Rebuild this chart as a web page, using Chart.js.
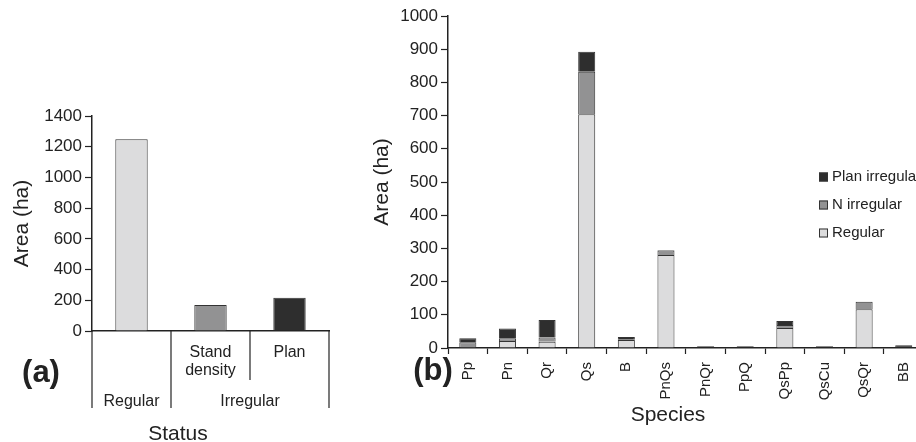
<!DOCTYPE html>
<html>
<head>
<meta charset="utf-8">
<script src="https://cdn.jsdelivr.net/npm/chart.js@4"></script>
<style>
  html, body { margin: 0; padding: 0; background: #fff; overflow: hidden; }
  #wrap { position: relative; width: 916px; height: 442px; overflow: hidden; }
  #chart-status { position: absolute; left: 0; top: 0; }
  #chart-species { position: absolute; left: 360px; top: 0; }
</style>
</head>
<body>
<div id="wrap">
  <canvas id="chart-status" width="360" height="442" style="width:360px;height:442px"></canvas>
  <canvas id="chart-species" width="570" height="442" style="width:570px;height:442px"></canvas>
</div>
<script>
'use strict';

// ===== DATA =====
// (a) area by status
const statusLabels = ['Regular', 'Stand density', 'Plan'];
const statusArea = [1248, 169, 217];
const statusRow1 = [[], ['Stand', 'density'], ['Plan']];
const statusGroups = [
  { label: 'Regular', from: 0, to: 0 },
  { label: 'Irregular', from: 1, to: 2 }
];
const statusTicks = [0, 200, 400, 600, 800, 1000, 1200, 1400];

// (b) area by species, stacked
const species = ['Pp', 'Pn', 'Qr', 'Qs', 'B', 'PnQs', 'PnQr', 'PpQ', 'QsPp', 'QsCu', 'QsQr', 'BB'];
const regular = [3, 21, 19, 704, 24, 280, 0, 0, 60, 0, 117, 0];
const nIrregular = [14, 8, 13, 128, 1, 14, 0, 0, 9, 0, 22, 0];
const planIrregular = [12, 30, 52, 60, 8, 1, 5, 5, 12, 5, 0, 8];
const speciesTicks = [0, 100, 200, 300, 400, 500, 600, 700, 800, 900, 1000];

const FONT = "'Liberation Sans', Arial, sans-serif";
const INK = '#222';
const LIGHT = '#dcdcdd';
const MID = '#929293';
const DARK = '#2e2e2e';

// ===== (a) STATUS CHART =====
const statusAxisPlugin = {
  id: 'statusAxis',
  afterDraw(chart) {
    const { ctx, chartArea } = chart;
    const x = chart.scales.x;
    const w = x.width / statusLabels.length;
    const edge = i => x.left + i * w;
    const y0 = chartArea.bottom;

    ctx.save();
    ctx.strokeStyle = INK;
    ctx.lineWidth = 1.2;
    // separators: full height for group edges, short for the inner one
    [[0, 408], [1, 408], [2, 380], [3, 408]].forEach(([i, yEnd]) => {
      ctx.beginPath();
      ctx.moveTo(edge(i), y0);
      ctx.lineTo(edge(i), yEnd);
      ctx.stroke();
    });

    ctx.fillStyle = INK;
    ctx.textAlign = 'center';
    ctx.textBaseline = 'middle';
    ctx.font = `16px ${FONT}`;
    statusRow1.forEach((lines, i) => {
      lines.forEach((t, j) => ctx.fillText(t, x.getPixelForValue(i), 353 + j * 18));
    });
    statusGroups.forEach(g => {
      const cx = (x.getPixelForValue(g.from) + x.getPixelForValue(g.to)) / 2;
      ctx.fillText(g.label, cx, 402);
    });

    ctx.font = `21px ${FONT}`;
    ctx.fillText('Status', 178, 434);

    ctx.font = `bold 31px ${FONT}`;
    ctx.fillText('(a)', 41, 373);
    ctx.restore();
  }
};

new Chart(document.getElementById('chart-status'), {
  type: 'bar',
  data: {
    labels: statusLabels,
    datasets: [{
      data: statusArea,
      backgroundColor: [LIGHT, MID, DARK],
      borderColor: '#333',
      borderWidth: 1,
      barPercentage: 0.41,
      categoryPercentage: 1
    }]
  },
  options: {
    responsive: false,
    animation: false,
    layout: { padding: { top: 116, right: 31, bottom: 0, left: 0 } },
    plugins: { legend: { display: false }, tooltip: { enabled: false } },
    scales: {
      x: {
        ticks: { display: false },
        grid: { display: true, drawOnChartArea: false, drawTicks: false },
        border: { color: INK, width: 1.5 },
        afterFit: s => { s.height = 111; }
      },
      y: {
        min: 0,
        max: 1400,
        afterBuildTicks: s => { s.ticks = statusTicks.map(v => ({ value: v })); },
        ticks: { color: INK, font: { family: FONT, size: 17 }, padding: 3, callback: v => String(v) },
        grid: { drawOnChartArea: false, tickLength: 7, color: INK, tickWidth: 1.2 },
        border: { color: INK, width: 1.5 },
        title: { display: true, text: 'Area (ha)', color: INK, font: { family: FONT, size: 21 }, padding: { top: 10, bottom: 0 } },
        afterFit: s => { s.width = 92; }
      }
    }
  },
  plugins: [statusAxisPlugin]
});

// ===== (b) SPECIES CHART =====
const speciesExtrasPlugin = {
  id: 'speciesExtras',
  afterDraw(chart) {
    const { ctx } = chart;
    ctx.save();
    ctx.fillStyle = INK;
    ctx.textBaseline = 'middle';

    // legend, top entry = top of stack
    const items = [...chart.data.datasets].reverse();
    ctx.font = `15px ${FONT}`;
    items.forEach((ds, i) => {
      const y = 177 + i * 28;
      ctx.fillStyle = ds.backgroundColor;
      ctx.fillRect(459, y - 4.5, 9, 9);
      ctx.strokeStyle = '#333';
      ctx.lineWidth = 1;
      ctx.strokeRect(459.5, y - 4, 8, 8);
      ctx.fillStyle = INK;
      ctx.textAlign = 'left';
      ctx.fillText(ds.label, 472, y);
    });

    ctx.textAlign = 'center';
    ctx.font = `21px ${FONT}`;
    ctx.fillText('Species', 308, 415);

    ctx.font = `bold 31px ${FONT}`;
    ctx.fillText('(b)', 73, 371);
    ctx.restore();
  }
};

const stackStyle = { borderColor: '#333', borderWidth: 1, barPercentage: 0.43, categoryPercentage: 1 };

new Chart(document.getElementById('chart-species'), {
  type: 'bar',
  data: {
    labels: species,
    datasets: [
      { label: 'Regular', data: regular, backgroundColor: LIGHT, ...stackStyle },
      { label: 'N irregular', data: nIrregular, backgroundColor: MID, ...stackStyle },
      { label: 'Plan irregular', data: planIrregular, backgroundColor: DARK, ...stackStyle }
    ]
  },
  options: {
    responsive: false,
    animation: false,
    layout: { padding: { top: 16, right: 6, bottom: 0, left: 0 } },
    plugins: { legend: { display: false }, tooltip: { enabled: false } },
    scales: {
      x: {
        stacked: true,
        ticks: { color: INK, font: { family: FONT, size: 15 }, minRotation: 90, maxRotation: 90, padding: 8, autoSkip: false },
        grid: { drawOnChartArea: false, tickLength: 6, color: INK, tickWidth: 1.2, offset: true },
        border: { color: INK, width: 1.5 },
        afterFit: s => { s.height = 94; }
      },
      y: {
        stacked: true,
        min: 0,
        max: 1000,
        afterBuildTicks: s => { s.ticks = speciesTicks.map(v => ({ value: v })); },
        ticks: { color: INK, font: { family: FONT, size: 17 }, padding: 3, callback: v => String(v) },
        grid: { drawOnChartArea: false, tickLength: 7, color: INK, tickWidth: 1.2 },
        border: { color: INK, width: 1.5 },
        title: { display: true, text: 'Area (ha)', color: INK, font: { family: FONT, size: 21 }, padding: { top: 10, bottom: 0 } },
        afterFit: s => { s.width = 88; }
      }
    }
  },
  plugins: [speciesExtrasPlugin]
});
</script>
</body>
</html>
